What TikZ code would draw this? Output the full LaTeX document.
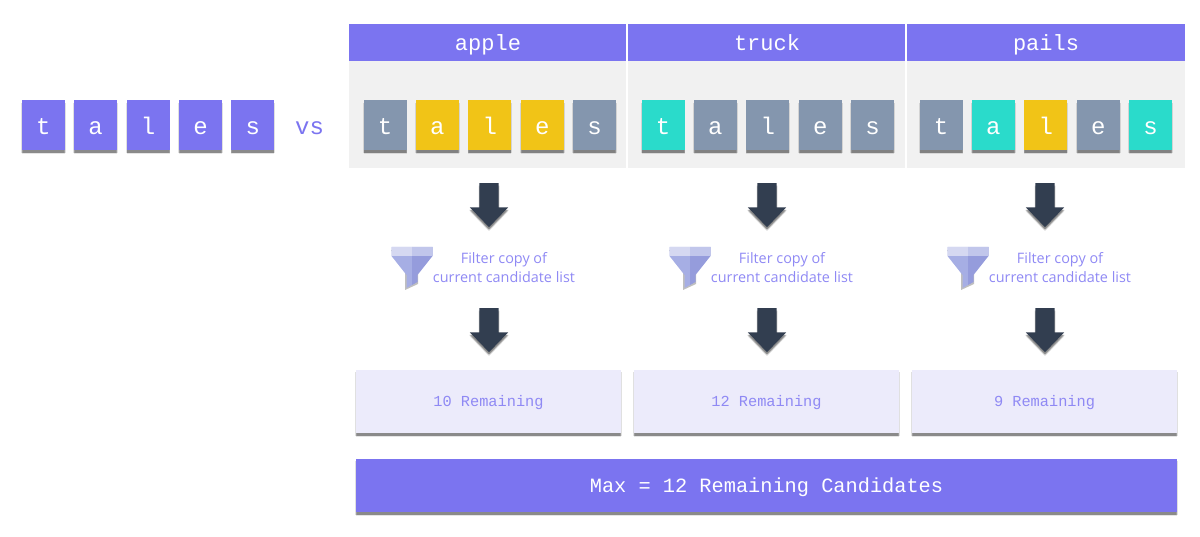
\documentclass[tikz,border=0pt]{standalone}
\usepackage{fontspec}
\setmainfont{Open Sans}
\setmonofont{Liberation Mono}
\usetikzlibrary{positioning,shapes.arrows,shadows}
\definecolor{purpleMain}{HTML}{7B74F0}
\definecolor{purpleText}{HTML}{8F89F4}
\definecolor{purpleLight}{HTML}{ECEBFB}
\definecolor{panelGrey}{HTML}{F1F1F1}
\definecolor{tileGrey}{HTML}{8496AE}
\definecolor{tileYellow}{HTML}{F1C417}
\definecolor{tileTeal}{HTML}{2ADBCB}
\definecolor{arrowDark}{HTML}{323E50}
\definecolor{funnelA}{HTML}{D5D8F1}
\definecolor{funnelB}{HTML}{C1C6EB}
\definecolor{funnelC}{HTML}{A6AEE4}
\definecolor{funnelD}{HTML}{959CDC}
\tikzset{
  softshadow/.style={
    drop shadow={shadow xshift=0pt,shadow yshift=-4pt,fill=black,opacity=0.10},
    drop shadow={shadow xshift=-0.8pt,shadow yshift=-2.5pt,fill=black,opacity=0.12},
    drop shadow={shadow xshift=0.8pt,shadow yshift=-2.5pt,fill=black,opacity=0.12},
    drop shadow={shadow xshift=0pt,shadow yshift=-2.5pt,fill=black,opacity=0.22}},
  tile/.style={rectangle, minimum width=43pt, minimum height=50pt, inner sep=0pt, text=white,
    text height=18.6pt, text depth=0pt,
    font=\ttfamily\fontsize{24}{24}\selectfont, softshadow, node distance=9pt},
  header/.style={rectangle, fill=purpleMain, minimum width=278pt, minimum height=37pt, inner sep=0pt,
    text height=16.4pt, text depth=0pt,
    text=white, font=\ttfamily\fontsize{22}{22}\selectfont},
  panel/.style={rectangle, fill=panelGrey, minimum width=278pt, minimum height=107pt, inner sep=0pt},
  downarrow/.style={single arrow, fill=arrowDark, minimum width=38pt, minimum height=44pt, inner sep=9.5pt,
    single arrow head extend=9.5pt, single arrow tip angle=88, shape border rotate=270, anchor=tail, softshadow},
  filtertext/.style={align=center, text=purpleText, inner sep=0pt,
    font=\fontsize{14.4}{19}\selectfont},
  remaining/.style={rectangle, fill=purpleLight, minimum width=265pt, minimum height=63.5pt, inner sep=0pt,
    text height=10.4pt, text depth=0pt,
    text=purpleText, font=\ttfamily\fontsize{15.3}{15.3}\selectfont, softshadow},
  funnel/.pic={
    \fill[black,opacity=0.25] (-21,3) -- (-7,22) -- (-7,43) -- (6,37) -- (6,20) -- (0,20) -- cycle;
    \fill[funnelC] (-20.5,0) -- (0,0) -- (0,38) -- (-5.5,41) -- (-5.5,28) -- (-20.5,9) -- cycle;
    \fill[funnelD] (20.5,0) -- (0,0) -- (0,38) -- (5.5,35) -- (5.5,28) -- (20.5,9) -- cycle;
    \fill[funnelA] (-20.5,0) rectangle (0,9);
    \fill[funnelB] (0,0) rectangle (20.5,9);
  }
}
\begin{document}
\begin{tikzpicture}[x=1pt,y=-1pt]
  \useasboundingbox (0,0) rectangle (1200,537);

  % the guess
  \node[tile, fill=purpleMain] (g1) at (43.3,125.5) {t};
  \node[tile, fill=purpleMain, right=of g1] (g2) {a};
  \node[tile, fill=purpleMain, right=of g2] (g3) {l};
  \node[tile, fill=purpleMain, right=of g3] (g4) {e};
  \node[tile, fill=purpleMain, right=of g4] (g5) {s};
  \node[text=purpleMain, font=\ttfamily\fontsize{24}{24}\selectfont, inner sep=0pt,
    text height=14.6pt, text depth=0pt] (vs) at (309.5,127) {vs};

  % headers and panels
  \node[header] (h1) at (488,42.5) {apple};
  \node[header] (h2) at (767,42.5) {truck};
  \node[header] (h3) at (1046,42.5) {pails};
  \node[panel, below=0pt of h1] (p1) {};
  \node[panel, below=0pt of h2] (p2) {};
  \node[panel, below=0pt of h3] (p3) {};
  \draw[white, line width=1.5pt] (h1.north east) -- (p1.south east);
  \draw[white, line width=1.5pt] (h2.north east) -- (p2.south east);

  % apple
  \node[tile, fill=tileGrey] (a1) at (385,125.5) {t};
  \node[tile, fill=tileYellow, right=of a1] (a2) {a};
  \node[tile, fill=tileYellow, right=of a2] (a3) {l};
  \node[tile, fill=tileYellow, right=of a3] (a4) {e};
  \node[tile, fill=tileGrey, right=of a4] (a5) {s};

  % truck
  \node[tile, fill=tileTeal] (t1) at (663,125.5) {t};
  \node[tile, fill=tileGrey, right=of t1] (t2) {a};
  \node[tile, fill=tileGrey, right=of t2] (t3) {l};
  \node[tile, fill=tileGrey, right=of t3] (t4) {e};
  \node[tile, fill=tileGrey, right=of t4] (t5) {s};

  % pails
  \node[tile, fill=tileGrey] (s1) at (941,125.5) {t};
  \node[tile, fill=tileTeal, right=of s1] (s2) {a};
  \node[tile, fill=tileYellow, right=of s2] (s3) {l};
  \node[tile, fill=tileGrey, right=of s3] (s4) {e};
  \node[tile, fill=tileTeal, right=of s4] (s5) {s};

  % arrows
  \node[downarrow] (d1) at (489,183) {};
  \node[downarrow] (d2) at (767,183) {};
  \node[downarrow] (d3) at (1045,183) {};
  \node[downarrow] (e1) at (489,308) {};
  \node[downarrow] (e2) at (767,308) {};
  \node[downarrow] (e3) at (1045,308) {};

  % filter step
  \pic at (412,247) {funnel};
  \pic at (690,247) {funnel};
  \pic at (968,247) {funnel};
  \node[filtertext] (f1) at (504,268) {Filter copy of\\current candidate list};
  \node[filtertext] (f2) at (782,268) {Filter copy of\\current candidate list};
  \node[filtertext] (f3) at (1060,268) {Filter copy of\\current candidate list};

  % results
  \node[remaining] (r1) at (488.5,401.5) {10 Remaining};
  \node[remaining] (r2) at (766.5,401.5) {12 Remaining};
  \node[remaining] (r3) at (1044.5,401.5) {9 Remaining};
  \node[rectangle, fill=purpleMain, minimum width=821pt, minimum height=53.5pt, inner sep=0pt, text=white,
    text height=14.4pt, text depth=0pt,
    font=\ttfamily\fontsize{20.3}{20.3}\selectfont, softshadow] (maxbox) at (766.5,485.5) {Max = 12 Remaining Candidates};
\end{tikzpicture}
\end{document}
